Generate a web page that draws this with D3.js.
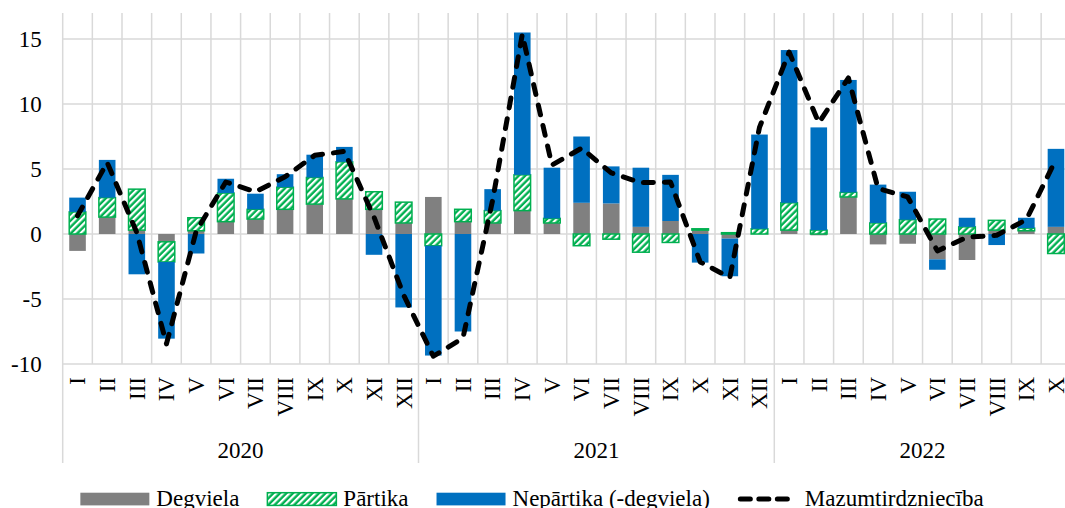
<!DOCTYPE html>
<html>
<head>
<meta charset="utf-8">
<script src="https://cdn.jsdelivr.net/npm/d3@7"></script>
<style>
  body { margin: 0; background: #fff; }
  svg { display: block; font-family: "Liberation Serif", "Times New Roman", serif; }
</style>
</head>
<body>
<svg id="chart" width="1065" height="508"></svg>
<script>
// categories: roman months, grouped by year (2022 only up to X)
var months = ["I", "II", "III", "IV", "V", "VI", "VII", "VIII", "IX", "X", "XI", "XII"];
var years = ["2020", "2021", "2022"];
var monthsShown = [12, 12, 10];

// contributions, percentage points
var degviela = [
    -1.3, 1.3, 0.3, -0.6, 0.25, 0.95, 1.15, 1.9, 2.3, 2.7, 1.9, 0.85,
    2.85, 0.95, 0.85, 1.8, 0.85, 2.4, 2.35, 0.55, 1.0, 0.3, -0.35, 0,
    0.3, -0.1, 2.85, -0.8, -0.75, -1.95, -2.0, 0.3, 0.25, 0.55
];
var partika = [
    1.7, 1.5, 3.15, -1.55, 1.0, 2.2, 0.75, 1.7, 2.05, 2.85, 1.35, 1.6,
    -0.9, 0.95, 0.95, 2.75, 0.35, -0.9, -0.4, -1.4, -0.65, 0.1, 0.1, 0.4,
    2.1, 0.3, 0.35, 0.85, 1.1, 1.15, 0.55, 0.75, 0.2, -1.5
];
var nepartika = [
    1.1, 2.9, -3.1, -5.9, -1.5, 1.1, 1.2, 1.0, 1.75, 1.15, -1.6, -5.65,
    -8.45, -7.5, 1.65, 10.95, 3.9, 5.1, 2.85, 4.55, 3.55, -2.2, -2.9, 7.25,
    11.75, 7.9, 8.65, 2.95, 2.15, -0.8, 0.7, -0.85, 0.8, 6.0
];
var mazumtirdznieciba = [
    1.4, 5.5, 0.1, -8.45, 0.2, 4.0, 3.25, 4.4, 6.05, 6.35, 1.3, -4.7,
    -9.4, -8.0, 2.6, 15.35, 5.3, 6.6, 4.7, 3.95, 4.0, -2.15, -3.35, 8.2,
    14.0, 8.55, 12.0, 3.5, 2.85, -1.3, -0.25, -0.1, 1.1, 5.75
];

var yTicks = [-10, -5, 0, 5, 10, 15];
var seriesKeys = ["degviela", "partika", "nepartika"];
var seriesNames = ["Degviela", "Pārtika", "Nepārtika (-degviela)", "Mazumtirdzniecība"];

(function () {
    var categories = [];
    years.forEach(function (yr, i) {
        months.slice(0, monthsShown[i]).forEach(function (m) {
            categories.push({ year: yr, month: m });
        });
    });

    var svg = d3.select("#chart");
    var plotLeft = 62.7, plotRight = 1070.8, plotTop = 13, plotBottom = 364, groupBottom = 463;
    var fontSize = 23;
    var gridColor = "#d9d9d9";
    var colors = { degviela: "#808080", partika: "url(#hatch)", nepartika: "#0070c0" };
    var green = "#00b050";

    var x = d3.scaleBand()
        .domain(d3.range(categories.length))
        .range([plotLeft, plotRight])
        .paddingInner(0.44)
        .paddingOuter(0.22);
    var y = d3.scaleLinear().domain([-10, 17]).range([plotBottom, plotTop]);
    var step = x.step();

    // hatch for Pārtika
    var defs = svg.append("defs");
    var hatch = defs.append("pattern")
        .attr("id", "hatch")
        .attr("patternUnits", "userSpaceOnUse")
        .attr("width", 4.6)
        .attr("height", 4.6)
        .attr("patternTransform", "rotate(45)");
    hatch.append("rect").attr("width", 4.6).attr("height", 4.6).attr("fill", green);
    hatch.append("rect").attr("width", 2.2).attr("height", 4.6).attr("fill", "#fff");

    // grid
    svg.append("g")
        .selectAll("line")
        .data(yTicks)
        .join("line")
        .attr("x1", plotLeft)
        .attr("x2", plotRight)
        .attr("y1", function (d) { return y(d); })
        .attr("y2", function (d) { return y(d); })
        .attr("stroke", gridColor)
        .attr("stroke-width", 1.5);

    var yearStarts = [0];
    monthsShown.forEach(function (n, i) { yearStarts.push(yearStarts[i] + n); });

    svg.append("g")
        .selectAll("line")
        .data(d3.range(categories.length + 1))
        .join("line")
        .attr("x1", function (i) { return plotLeft + i * step; })
        .attr("x2", function (i) { return plotLeft + i * step; })
        .attr("y1", plotTop)
        .attr("y2", function (i) { return yearStarts.indexOf(i) >= 0 ? groupBottom : plotBottom; })
        .attr("stroke", gridColor)
        .attr("stroke-width", 1.5);

    // stacked bars
    var table = categories.map(function (c, i) {
        return { degviela: degviela[i], partika: partika[i], nepartika: nepartika[i] };
    });
    var stacked = d3.stack().keys(seriesKeys).offset(d3.stackOffsetDiverging)(table);

    svg.append("g")
        .selectAll("g")
        .data(stacked)
        .join("g")
        .attr("fill", function (s) { return colors[s.key]; })
        .attr("stroke", function (s) { return s.key == "partika" ? green : "none"; })
        .attr("stroke-width", 1.5)
        .selectAll("rect")
        .data(function (s) {
            return s.map(function (d, i) { return { i: i, y0: d[0], y1: d[1] }; })
                .filter(function (d) { return d.y0 != d.y1; });
        })
        .join("rect")
        .attr("x", function (d) { return x(d.i); })
        .attr("width", x.bandwidth())
        .attr("y", function (d) { return y(Math.max(d.y0, d.y1)); })
        .attr("height", function (d) { return Math.abs(y(d.y0) - y(d.y1)); });

    // total line
    var line = d3.line()
        .x(function (d, i) { return x(i) + x.bandwidth() / 2; })
        .y(function (d) { return y(d); });

    svg.append("path")
        .datum(mazumtirdznieciba)
        .attr("d", line)
        .attr("fill", "none")
        .attr("stroke", "#000")
        .attr("stroke-width", 5)
        .attr("stroke-dasharray", "10,11")
        .attr("stroke-linecap", "round")
        .attr("stroke-linejoin", "round");

    // y axis
    svg.append("g")
        .attr("transform", "translate(" + plotLeft + ",0)")
        .call(d3.axisLeft(y).tickValues(yTicks).tickSize(0).tickPadding(21)
            .tickFormat(function (d) { return String(d); }))
        .call(function (g) {
            g.select(".domain").remove();
            g.attr("font-family", null).attr("font-size", fontSize);
            g.selectAll("text").attr("fill", "#000");
        });

    // month labels
    svg.append("g")
        .selectAll("text")
        .data(categories)
        .join("text")
        .attr("transform", function (d, i) {
            return "translate(" + (x(i) + x.bandwidth() / 2) + "," + (plotBottom + 13) + ") rotate(-90)";
        })
        .attr("text-anchor", "end")
        .attr("dy", "0.34em")
        .attr("font-size", fontSize)
        .attr("fill", "#000")
        .text(function (d) { return d.month; });

    // year labels
    svg.append("g")
        .selectAll("text")
        .data(years)
        .join("text")
        .attr("x", function (d, i) { return plotLeft + (yearStarts[i] + monthsShown[i] / 2) * step; })
        .attr("y", 458)
        .attr("text-anchor", "middle")
        .attr("font-size", fontSize)
        .attr("fill", "#000")
        .text(function (d) { return d; });

    // legend
    var legend = svg.append("g");
    var keyW = 69, keyGap = 7, itemGap = 28, cursor = 0;
    seriesNames.forEach(function (name, i) {
        var item = legend.append("g").attr("transform", "translate(" + cursor + ",0)");
        if (i < 3) {
            item.append("rect")
                .attr("y", 492.7)
                .attr("width", keyW)
                .attr("height", 12.7)
                .attr("fill", colors[seriesKeys[i]])
                .attr("stroke", i == 1 ? green : "none")
                .attr("stroke-width", 1.5);
        } else {
            item.append("line")
                .attr("x1", 2.5)
                .attr("x2", 49.5)
                .attr("y1", 499)
                .attr("y2", 499)
                .attr("stroke", "#000")
                .attr("stroke-width", 5)
                .attr("stroke-dasharray", "10,8.5")
                .attr("stroke-linecap", "round");
        }
        var kw = i < 3 ? keyW : 52;
        var gap = i < 3 ? keyGap : 15;
        var t = item.append("text")
            .attr("x", kw + gap)
            .attr("y", 506)
            .attr("font-size", fontSize)
            .attr("fill", "#000")
            .text(name);
        cursor += kw + gap + t.node().getComputedTextLength() + itemGap;
    });
    var legendW = cursor - itemGap;
    legend.attr("transform", "translate(" + (532 - legendW / 2) + ",0)");
})();
</script>
</body>
</html>
